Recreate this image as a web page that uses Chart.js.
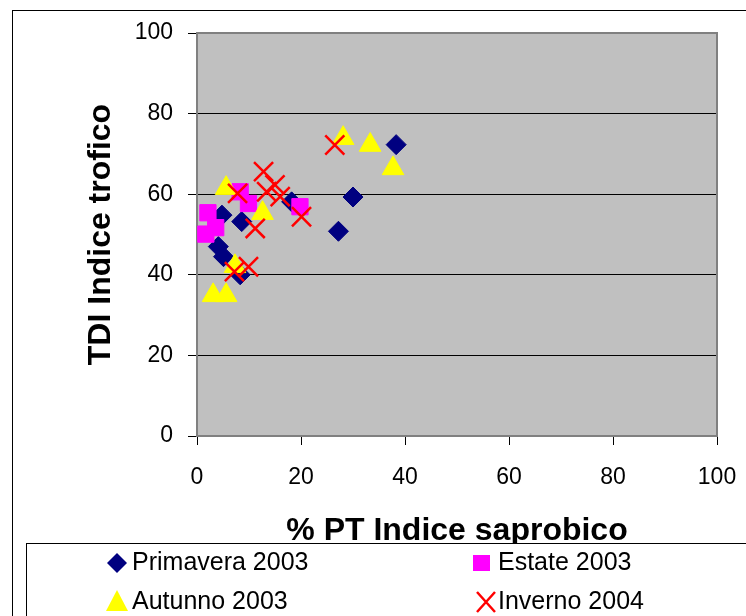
<!DOCTYPE html>
<html>
<head>
<meta charset="utf-8">
<script src="https://cdn.jsdelivr.net/npm/chart.js@4.4.1/dist/chart.umd.min.js"></script>
<style>
  html, body { margin: 0; padding: 0; background: #fff; }
  #chart { display: block; }
</style>
</head>
<body>
<canvas id="chart" width="746" height="616"></canvas>
<script>
// --- Data ---
const seriesNames = ['Primavera 2003', 'Estate 2003', 'Autunno 2003', 'Inverno 2004'];

const primaveraX = [38.3, 30.0, 27.2, 18.2, 4.8, 8.6, 4.1, 5.1, 8.3];
const primaveraY = [72.3, 59.3, 50.8, 58.1, 54.8, 53.2, 47.0, 44.5, 40.0];

const estateX = [2.1, 3.6, 1.7, 8.3, 9.9, 19.8];
const estateY = [55.4, 51.7, 50.1, 60.6, 57.7, 56.9];

const autunnoX = [5.6, 12.6, 7.3, 3.1, 5.6, 28.1, 33.3, 37.7];
const autunnoY = [61.5, 55.3, 42.1, 34.9, 34.9, 73.9, 72.2, 66.4];

const invernoX = [7.8, 12.8, 13.4, 15.0, 16.0, 20.1, 11.2, 7.2, 9.9, 26.5];
const invernoY = [60.2, 65.6, 60.6, 62.3, 59.4, 54.4, 51.5, 40.8, 42.0, 72.2];

const axisTicks = [0, 20, 40, 60, 80, 100];

const FONT = '"Liberation Sans", Arial, sans-serif';

function toPoints(xs, ys) {
    return xs.map((x, i) => ({ x: x, y: ys[i] }));
}

// --- Plugins ---
const plotFrame = {
    id: 'plotFrame',
    beforeDraw(chart) {
        const { ctx, chartArea: a } = chart;
        ctx.save();
        ctx.fillStyle = '#ffffff';
        ctx.fillRect(0, 0, chart.width, chart.height);
        ctx.fillStyle = '#c0c0c0';
        ctx.fillRect(a.left, a.top, a.right - a.left, a.bottom - a.top);
        // outer chart border
        ctx.strokeStyle = '#000';
        ctx.lineWidth = 1;
        ctx.strokeRect(12.5, 10.5, 800, 700);
        ctx.restore();
    },
    beforeDatasetsDraw(chart) {
        const { ctx, chartArea: a } = chart;
        ctx.save();
        ctx.strokeStyle = '#808080';
        ctx.lineWidth = 2;
        ctx.strokeRect(a.left, a.top, a.right - a.left, a.bottom - a.top);
        ctx.restore();
    }
};

const boxLegend = {
    id: 'boxLegend',
    afterDraw(chart) {
        const ctx = chart.ctx;
        ctx.save();
        ctx.fillStyle = '#fff';
        ctx.fillRect(27, 544, 800, 200);
        ctx.strokeStyle = '#000';
        ctx.lineWidth = 1;
        ctx.strokeRect(26.5, 543.5, 800, 200);

        const slots = [
            { mx: 117, tx: 132, y: 563 },
            { mx: 481.5, tx: 498, y: 563 },
            { mx: 117, tx: 132, y: 602 },
            { mx: 486, tx: 498, y: 602 }
        ];
        chart.data.datasets.forEach((ds, i) => {
            const s = slots[i];
            drawMarker(ctx, ds.pointStyle, s.mx, s.y, ds.pointBackgroundColor, ds.pointBorderColor);
            ctx.fillStyle = '#000';
            ctx.font = '25px ' + FONT;
            ctx.textBaseline = 'middle';
            ctx.textAlign = 'left';
            ctx.fillText(ds.label, s.tx, s.y);
        });
        ctx.restore();
    }
};

function drawMarker(ctx, style, x, y, fill, stroke) {
    ctx.beginPath();
    if (style === 'rectRot') {
        ctx.moveTo(x - 10, y); ctx.lineTo(x, y - 10);
        ctx.lineTo(x + 10, y); ctx.lineTo(x, y + 10);
        ctx.closePath();
        ctx.fillStyle = fill; ctx.fill();
    } else if (style === 'rect') {
        ctx.fillStyle = fill;
        ctx.fillRect(x - 8.5, y - 8, 17, 16);
    } else if (style === 'triangle') {
        ctx.moveTo(x, y - 12); ctx.lineTo(x + 11, y + 9);
        ctx.lineTo(x - 11, y + 9); ctx.closePath();
        ctx.fillStyle = fill; ctx.fill();
    } else {
        ctx.strokeStyle = stroke; ctx.lineWidth = 2.5;
        ctx.moveTo(x - 9, y - 10); ctx.lineTo(x + 9, y + 10);
        ctx.moveTo(x + 9, y - 10); ctx.lineTo(x - 9, y + 10);
        ctx.stroke();
    }
}

// --- Chart ---
function makeDataset(name, xs, ys, style, fill, stroke, radius, border, order) {
    return {
        label: name,
        data: toPoints(xs, ys),
        pointStyle: style,
        pointRadius: radius,
        pointHoverRadius: radius,
        pointBackgroundColor: fill,
        pointBorderColor: stroke,
        pointBorderWidth: border,
        showLine: false,
        order: order
    };
}

const yGridColor = (c) => (c.tick && (c.tick.value === 0 || c.tick.value === 100)) ? 'rgba(0,0,0,0)' : '#000';

new Chart(document.getElementById('chart'), {
    type: 'scatter',
    data: {
        datasets: [
            makeDataset(seriesNames[0], primaveraX, primaveraY, 'rectRot', '#000080', '#000080', 10, 1, 4),
            makeDataset(seriesNames[1], estateX, estateY, 'rect', '#ff00ff', '#ff00ff', 11.5, 1, 3),
            makeDataset(seriesNames[2], autunnoX, autunnoY, 'triangle', '#ffff00', '#ffff00', 12.5, 1, 2),
            makeDataset(seriesNames[3], invernoX, invernoY, 'crossRot', '#ff0000', '#ff0000', 13.5, 2.5, 1)
        ]
    },
    options: {
        responsive: false,
        animation: false,
        devicePixelRatio: 1,
        layout: { padding: { left: 0, right: 29, top: 33, bottom: 0 } },
        plugins: {
            legend: { display: false },
            tooltip: { enabled: false }
        },
        scales: {
            x: {
                type: 'linear',
                min: 0, max: 100,
                afterFit: (s) => { s.height = 180; s.paddingLeft = 0; s.paddingRight = 0; },
                afterBuildTicks: (s) => { s.ticks = axisTicks.map(v => ({ value: v })); },
                ticks: { color: '#000', font: { family: FONT, size: 23 }, padding: 19, maxRotation: 0 },
                grid: { drawOnChartArea: false, tickLength: 9, tickColor: '#000', color: '#000' },
                border: { display: false },
                title: {
                    display: true,
                    text: '% PT Indice saprobico',
                    color: '#000',
                    font: { family: FONT, size: 32, weight: 'bold' },
                    padding: { top: 0, bottom: 66 }
                }
            },
            y: {
                type: 'linear',
                min: 0, max: 100,
                afterFit: (s) => { s.width = 197; },
                afterBuildTicks: (s) => { s.ticks = axisTicks.map(v => ({ value: v })); },
                ticks: { color: '#000', font: { family: FONT, size: 23 }, padding: 15 },
                grid: { tickLength: 9, tickColor: '#000', color: yGridColor, lineWidth: 1 },
                border: { display: false },
                title: {
                    display: true,
                    text: 'TDI Indice trofico',
                    color: '#000',
                    font: { family: FONT, size: 32, weight: 'bold' },
                    padding: { top: 82, bottom: 0 }
                }
            }
        }
    },
    plugins: [plotFrame, boxLegend]
});
</script>
</body>
</html>
